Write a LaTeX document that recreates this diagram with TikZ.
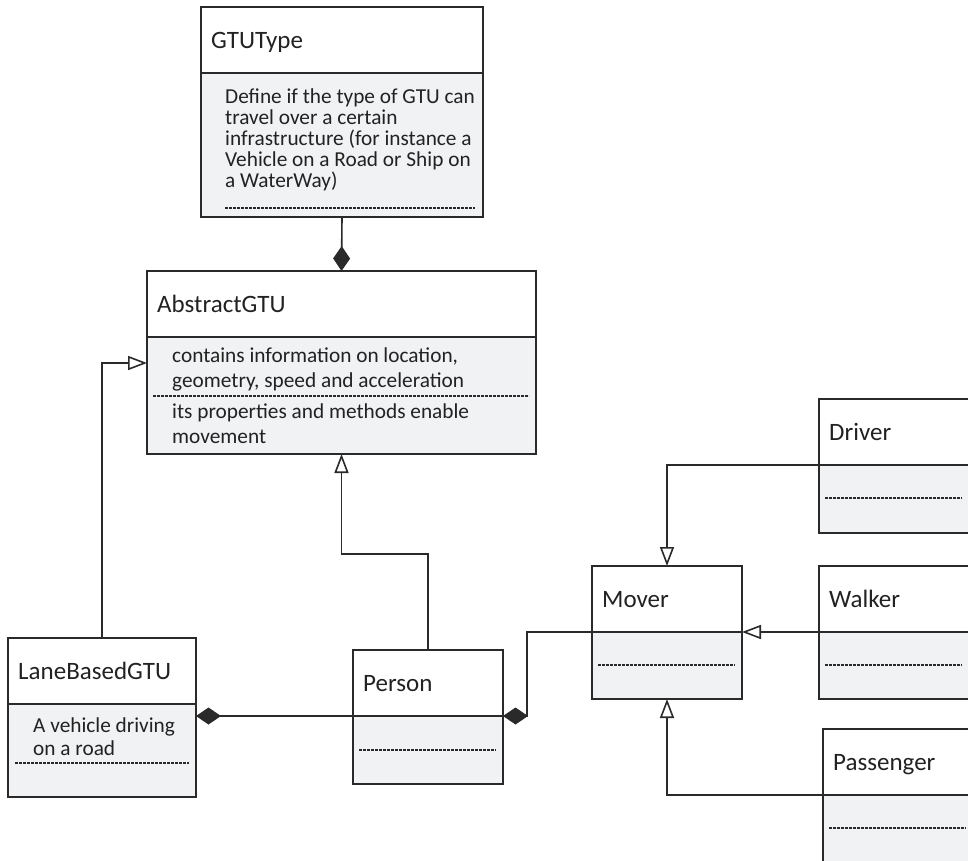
\documentclass[tikz,border=0pt]{standalone}
\usepackage{fontspec}
\setmainfont{Carlito}
\usetikzlibrary{arrows.meta,calc}
\definecolor{ink}{HTML}{222222}
\definecolor{edge}{HTML}{2A2A2A}
\definecolor{bodyfill}{HTML}{F1F2F4}
\tikzset{
  hdr/.style={draw=edge, line width=1.8pt, fill=white, anchor=north west, inner sep=0pt, outer sep=0pt},
  bdy/.style={draw=edge, line width=1.8pt, fill=bodyfill, anchor=north west, inner sep=0pt, outer sep=0pt},
  ctitle/.style={anchor=base west, inner sep=0pt, text=ink, font=\fontsize{25}{29}\selectfont},
  ctext/.style={anchor=base west, inner sep=0pt, text=ink, font=\fontsize{21.3}{25}\selectfont},
  dline/.style={draw=edge, line width=1.1pt, dash pattern=on 2.6pt off 1.4pt},
  inh/.style={draw=edge, line width=1.6pt, -{Triangle[length=19pt, width=14pt, fill=white]}},
  comp/.style={draw=edge, line width=1.6pt, -{Diamond[length=25pt, width=17pt]}}
}
\newcommand\umlclass[7]{%
  \node[hdr, minimum width={(#4-#2)*1pt}, minimum height={(#5-#3)*1pt}] (#1-h) at (#2,#3) {};
  \node[bdy, minimum width={(#4-#2)*1pt}, minimum height={(#6-#5)*1pt}] (#1-b) at (#2,#5) {};
  \node[ctitle] (#1-t) at ($(#1-h.west)+(10,8.5)$) {#7};
}
\begin{document}
\begin{tikzpicture}[x=1pt, y=-1pt]
\useasboundingbox (0,0) rectangle (968,860);
\clip (0,0) rectangle (968,860);

% classes
\umlclass{gt}{201}{7}{483}{73}{217}{GTUType}
\umlclass{ab}{147}{271}{536}{337}{454}{AbstractGTU}
\umlclass{lb}{8}{638}{196}{704}{797}{LaneBasedGTU}
\umlclass{pe}{353}{650}{503}{716}{784}{Person}
\umlclass{mo}{592}{566}{742}{632}{699}{Mover}
\umlclass{dr}{819}{399}{995}{465}{533}{Driver}
\umlclass{wa}{819}{566}{995}{632}{699}{Walker}
\umlclass{pa}{823}{729}{995}{795}{885}{Passenger}

% body texts
\node[ctext] (gt1) at (225,103) {Define if the type of GTU can};
\node[ctext] (gt2) at (225,124) {travel over a certain};
\node[ctext] (gt3) at (225,145) {infrastructure (for instance a};
\node[ctext] (gt4) at (225,166) {Vehicle on a Road or Ship on};
\node[ctext] (gt5) at (225,187) {a WaterWay)};
\draw[dline] (225,208) -- (475,208);

\node[ctext] (ab1) at (172,362) {contains information on location,};
\node[ctext] (ab2) at (172,387) {geometry, speed and acceleration};
\draw[dline] (153,396) -- (529,396);
\node[ctext] (ab3) at (172,418) {its properties and methods enable};
\node[ctext] (ab4) at (172,443) {movement};

\node[ctext] (lb1) at (33,732) {A vehicle driving};
\node[ctext] (lb2) at (33,755) {on a road};
\draw[dline] (15,763) -- (189,763);

\draw[dline] (359,750) -- (496,750);
\draw[dline] (598,665) -- (735,665);
\draw[dline] (825,498) -- (962,498);
\draw[dline] (825,665) -- (962,665);
\draw[dline] (829,828) -- (966,828);

% connectors
\draw[comp] (gt-b.south) -- (ab-h.north);
\draw[inh] (lb-h.north) |- (ab-b.west |- 0,363);
\draw[inh] (pe-h.north) -- (pe-h.north |- 0,554) -| (ab-b.south);
\draw[comp] (pe-h.south west) -- (lb-b.east |- pe-h.south west);
\draw[comp] (mo-h.south west) -| ($(pe-h.south east)+(24,0)$) -- (pe-h.south east);
\draw[inh] (dr-h.south west) -| (mo-h.north);
\draw[inh] (wa-h.south west) -- (mo-h.south east);
\draw[inh] (pa-h.south west) -| (mo-b.south);
\end{tikzpicture}
\end{document}
